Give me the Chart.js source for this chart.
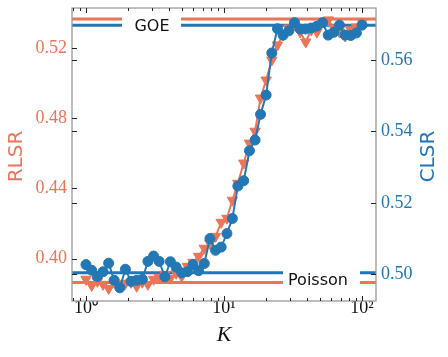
<!DOCTYPE html>
<html>
<head>
<meta charset="utf-8">
<script src="https://cdn.jsdelivr.net/npm/chart.js@4.4.1/dist/chart.umd.min.js"></script>
<style>
  html, body { margin: 0; padding: 0; background: #fff; }
  canvas { display: block; }
</style>
</head>
<body>
<canvas id="lsrChart" width="448" height="357"></canvas>
<script>
// K values (log spaced)
const kValues = [1.00, 1.10, 1.21, 1.33, 1.46, 1.60, 1.76, 1.93, 2.12, 2.33,
                 2.56, 2.81, 3.09, 3.39, 3.73, 4.09, 4.50, 4.94, 5.43, 5.96,
                 6.55, 7.20, 7.91, 8.69, 9.54, 10.5, 11.5, 12.6, 13.9, 15.3,
                 16.8, 18.4, 20.2, 22.2, 24.4, 26.8, 29.5, 32.4, 35.6, 39.1,
                 42.9, 47.1, 51.8, 56.9, 62.5, 68.7, 75.4, 82.9, 91.0, 100];
// left axis series (triangles)
const rlsr = [0.3882, 0.3847, 0.3870, 0.3853, 0.3830, 0.3865, 0.3842, 0.3859, 0.3865, 0.3842,
              0.3865, 0.3853, 0.3882, 0.3893, 0.3910, 0.3888, 0.3916, 0.3899, 0.3956, 0.3979,
              0.4013, 0.4059, 0.4087, 0.4127, 0.4207, 0.4230, 0.4333, 0.4430, 0.4545, 0.4659,
              0.4727, 0.4916, 0.5019, 0.5133, 0.5219, 0.5276, 0.5316, 0.5333, 0.5293, 0.5236,
              0.5305, 0.5293, 0.5350, 0.5362, 0.5316, 0.5293, 0.5270, 0.5305, 0.5322, 0.5350];
// right axis series (circles)
const clsr = [0.5027, 0.5011, 0.4994, 0.5007, 0.5031, 0.4983, 0.4962, 0.5014, 0.4980, 0.4983,
              0.4986, 0.5036, 0.5051, 0.5036, 0.4993, 0.5035, 0.5020, 0.5004, 0.5007, 0.5027,
              0.5010, 0.5030, 0.5100, 0.5067, 0.5076, 0.5114, 0.5156, 0.5247, 0.5262, 0.5346,
              0.5376, 0.5448, 0.5502, 0.5620, 0.5688, 0.5670, 0.5682, 0.5705, 0.5687, 0.5687,
              0.5690, 0.5695, 0.5705, 0.5670, 0.5678, 0.5698, 0.5670, 0.5669, 0.5676, 0.5698];
// reference levels [RLSR, CLSR]
const goeLevels = [0.5367, 0.5698];
const poissonLevels = [0.3863, 0.5004];
// tick labels
const xTicks = [1, 10, 100];
const xTickLabels = ['10⁰', '10¹', '10²'];
const rlsrTicks = [0.40, 0.44, 0.48, 0.52];
const clsrTicks = [0.50, 0.52, 0.54, 0.56];

const xRange = [0.792, 126.3];
const rlsrRange = [0.3758, 0.5430];
const clsrRange = [0.4925, 0.5746];

const ORANGE = '#EC7558';
const BLUE = '#2277B4';

function levelLine(value, axis, color) {
    return {
        data: [{ x: xRange[0], y: value }, { x: xRange[1], y: value }],
        yAxisID: axis,
        borderColor: color,
        borderWidth: 3,
        pointRadius: 0,
        order: 5,
    };
}

// no overhang padding, so the plot box sits where we want it
function noOverhang(scale) {
    scale.paddingTop = 0;
    scale.paddingBottom = 0;
    scale.paddingLeft = 0;
    scale.paddingRight = 0;
}

// frame, inward ticks, legend boxes and axis titles
const decorations = {
    id: 'decorations',
    afterDatasetsDraw(chart) {
        const { ctx, chartArea: a, scales } = chart;
        ctx.save();

        // legend boxes covering the level lines
        ctx.fillStyle = '#fff';
        ctx.fillRect(a.left + 50, a.top + 1, 59, 29);
        ctx.fillRect(a.left + 211, a.bottom - 39, 77, 32);
        ctx.fillStyle = '#111';
        ctx.font = '16px "DejaVu Sans"';
        ctx.textAlign = 'center';
        ctx.textBaseline = 'middle';
        ctx.fillText('GOE', a.left + 80, a.top + 19);
        ctx.fillText('Poisson', a.left + 246, a.bottom - 20);

        // frame
        ctx.strokeStyle = '#9a9a9a';
        ctx.lineWidth = 1.3;
        ctx.strokeRect(a.left, a.top, a.right - a.left, a.bottom - a.top);

        // ticks
        ctx.strokeStyle = '#222';
        ctx.lineWidth = 1;
        const vtick = (v, len) => {
            const px = Math.round(scales.x.getPixelForValue(v)) + 0.5;
            ctx.beginPath();
            ctx.moveTo(px, a.bottom); ctx.lineTo(px, a.bottom - len);
            ctx.moveTo(px, a.top); ctx.lineTo(px, a.top + len);
            ctx.stroke();
        };
        xTicks.forEach(v => vtick(v, 5));
        for (let d = 0.1; d <= 100; d *= 10) {
            for (let m = 2; m <= 9; m++) {
                const v = m * d;
                if (v > xRange[0] && v < xRange[1]) vtick(v, 3);
            }
        }
        const htick = (py, side, len) => {
            py = Math.round(py) + 0.5;
            ctx.beginPath();
            if (side === 'left') { ctx.moveTo(a.left, py); ctx.lineTo(a.left + len, py); }
            else { ctx.moveTo(a.right, py); ctx.lineTo(a.right - len, py); }
            ctx.stroke();
        };
        rlsrTicks.forEach(v => htick(scales.y.getPixelForValue(v), 'left', 5));
        clsrTicks.forEach(v => {
            const py = scales.y2.getPixelForValue(v);
            htick(py, 'left', 5);
            htick(py, 'right', 5);
        });

        // axis titles
        ctx.font = '20px "DejaVu Sans"';
        ctx.textAlign = 'center';
        ctx.textBaseline = 'middle';
        const midY = (a.top + a.bottom) / 2 + 2;
        ctx.save();
        ctx.translate(17, midY);
        ctx.rotate(-Math.PI / 2);
        ctx.fillStyle = ORANGE;
        ctx.fillText('RLSR', 0, 0);
        ctx.restore();
        ctx.save();
        ctx.translate(429, midY);
        ctx.rotate(-Math.PI / 2);
        ctx.fillStyle = BLUE;
        ctx.fillText('CLSR', 0, 0);
        ctx.restore();
        ctx.fillStyle = '#111';
        ctx.font = 'italic 22px "Liberation Serif"';
        ctx.fillText('K', (a.left + a.right) / 2, 335);

        ctx.restore();
    }
};

const ctx = document.getElementById('lsrChart');
new Chart(ctx, {
    type: 'line',
    data: {
        datasets: [
            {
                label: 'CLSR',
                data: kValues.map((k, i) => ({ x: k, y: clsr[i] })),
                yAxisID: 'y2',
                borderColor: BLUE,
                backgroundColor: BLUE,
                borderWidth: 2,
                pointRadius: 5,
                pointBorderWidth: 1,
                order: 1,
            },
            {
                label: 'RLSR',
                data: kValues.map((k, i) => ({ x: k, y: rlsr[i] })),
                yAxisID: 'y',
                borderColor: ORANGE,
                backgroundColor: ORANGE,
                borderWidth: 2,
                pointStyle: 'triangle',
                rotation: 180,
                pointRadius: 6,
                pointBorderWidth: 1,
                order: 2,
            },
            levelLine(goeLevels[1], 'y2', BLUE),
            levelLine(poissonLevels[1], 'y2', BLUE),
            levelLine(goeLevels[0], 'y', ORANGE),
            levelLine(poissonLevels[0], 'y', ORANGE),
        ]
    },
    options: {
        responsive: false,
        animation: false,
        devicePixelRatio: 1,
        layout: { padding: { top: 8, left: 0, right: 0, bottom: 0 } },
        plugins: {
            legend: { display: false },
            tooltip: { enabled: false },
        },
        scales: {
            x: {
                type: 'logarithmic',
                min: xRange[0],
                max: xRange[1],
                grid: { display: false, drawTicks: false },
                border: { display: false },
                afterBuildTicks: scale => { scale.ticks = xTicks.map(v => ({ value: v })); },
                afterFit: scale => { scale.height = 56; noOverhang(scale); },
                ticks: {
                    autoSkip: false,
                    maxRotation: 0,
                    padding: -4,
                    color: '#111',
                    font: { family: '"Liberation Serif"', size: 18 },
                    callback: v => xTickLabels[xTicks.indexOf(v)],
                },
            },
            y: {
                position: 'left',
                min: rlsrRange[0],
                max: rlsrRange[1],
                grid: { display: false, drawTicks: false },
                border: { display: false },
                afterBuildTicks: scale => { scale.ticks = rlsrTicks.map(v => ({ value: v })); },
                afterFit: scale => { scale.width = 72; noOverhang(scale); },
                ticks: {
                    padding: 5,
                    color: ORANGE,
                    font: { family: '"Liberation Serif"', size: 18 },
                    callback: v => v.toFixed(2),
                },
            },
            y2: {
                position: 'right',
                min: clsrRange[0],
                max: clsrRange[1],
                grid: { display: false, drawTicks: false },
                border: { display: false },
                afterBuildTicks: scale => { scale.ticks = clsrTicks.map(v => ({ value: v })); },
                afterFit: scale => { scale.width = 72; noOverhang(scale); },
                ticks: {
                    padding: 5,
                    color: BLUE,
                    font: { family: '"Liberation Serif"', size: 18 },
                    callback: v => v.toFixed(2),
                },
            },
        },
    },
    plugins: [decorations],
});
</script>
</body>
</html>
